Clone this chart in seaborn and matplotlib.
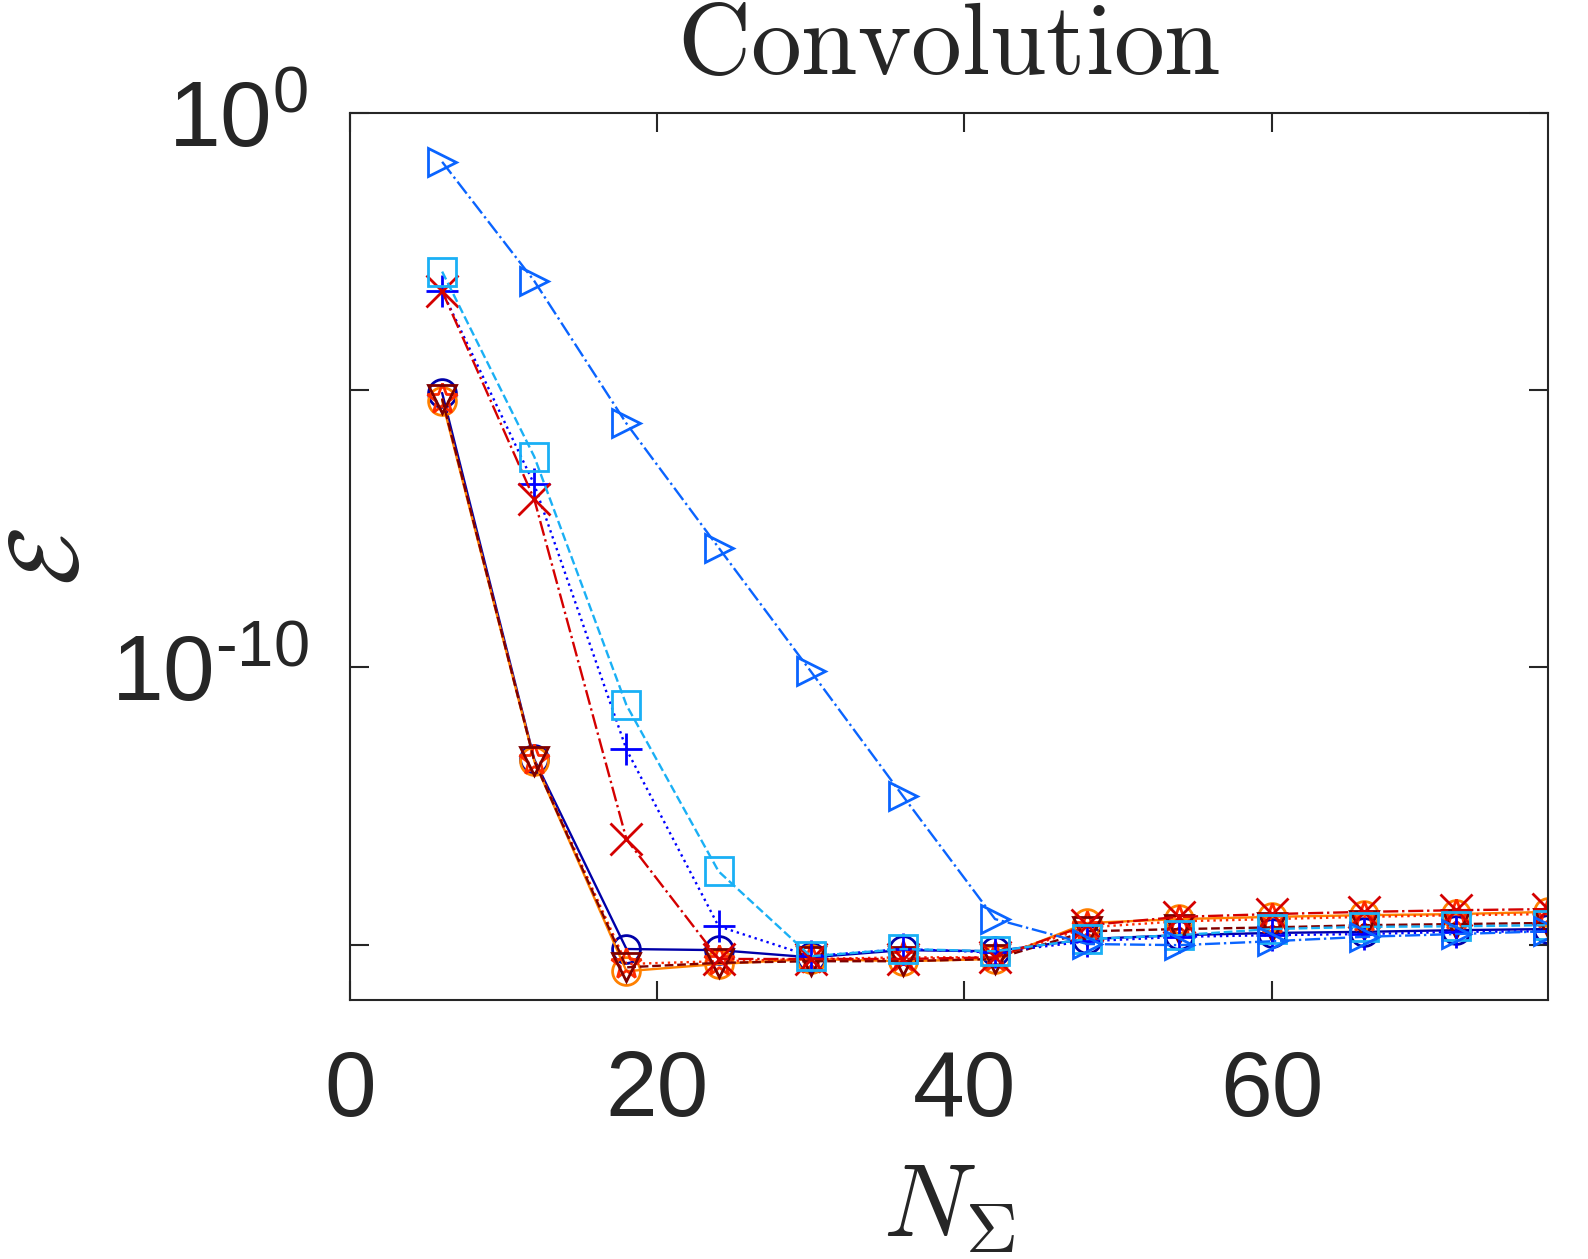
import numpy as np
import pandas as pd
import matplotlib
matplotlib.use('Agg')
import matplotlib.pyplot as plt
import seaborn as sns

# Data (log10 of error)
n_sigma = [6, 12, 18, 24, 30, 36, 42, 48, 54, 60, 66, 72, 78]

log_circ_navy = [-5.05, -11.66, -15.08, -15.10, -15.23, -15.10, -15.12, -14.90, -14.83, -14.79, -14.77, -14.74, -14.72]
log_circ_orange = [-5.19, -11.69, -15.48, -15.35, -15.26, -15.30, -15.26, -14.61, -14.54, -14.50, -14.47, -14.45, -14.41]
log_star = [-5.15, -11.67, -15.35, -15.30, -15.26, -15.23, -15.23, -14.69, -14.58, -14.54, -14.50, -14.47, -14.45]
log_tri_down = [-5.15, -11.69, -15.41, -15.33, -15.30, -15.30, -15.26, -14.76, -14.72, -14.69, -14.65, -14.63, -14.61]
log_plus = [-3.21, -6.70, -11.48, -14.67, -15.21, -15.08, -15.14, -14.94, -14.86, -14.83, -14.81, -14.77, -14.76]
log_cross = [-3.21, -6.97, -13.10, -15.26, -15.26, -15.26, -15.23, -14.65, -14.50, -14.45, -14.41, -14.38, -14.36]
log_square = [-2.86, -6.20, -10.68, -13.68, -15.21, -15.08, -15.12, -14.90, -14.83, -14.72, -14.68, -14.67, -14.65]
log_tri_right = [-0.88, -3.03, -5.60, -7.84, -10.07, -12.32, -14.54, -14.99, -15.01, -14.94, -14.86, -14.81, -14.76]

series = [
    (log_circ_navy, '#0000A8', 'o', '-'),
    (log_circ_orange, '#FF8000', 'o', '-'),
    (log_star, '#FF2A00', '*', ':'),
    (log_tri_down, '#7F0000', 'v', '--'),
    (log_plus, '#0000FF', '+', ':'),
    (log_cross, '#D40000', 'x', '-.'),
    (log_square, '#1AB0F5', 's', '--'),
    (log_tri_right, '#0A64FF', '>', '-.'),
]

sns.set_style('ticks')
plt.rcParams['font.family'] = ['Liberation Sans', 'DejaVu Sans']
plt.rcParams['mathtext.fontset'] = 'custom'
plt.rcParams['mathtext.rm'] = 'Liberation Sans'
plt.rcParams['mathtext.it'] = 'Liberation Sans:italic'
plt.rcParams['xtick.direction'] = 'in'
plt.rcParams['ytick.direction'] = 'in'

fig = plt.figure(figsize=(15.88, 12.59), dpi=100)
ax = fig.add_axes([0.2204, 0.2057, 0.7544, 0.7045])

for vals, col, mk, ls in series:
    y = 10.0 ** np.array(vals)
    ms = 23 if mk in ('*', '+', 'x') else 20
    sns.lineplot(x=n_sigma, y=y, ax=ax, color=col, marker=mk, linestyle=ls,
                 linewidth=1.7, markersize=ms, markerfacecolor='none',
                 markeredgecolor=col, markeredgewidth=2.0, legend=False)

ax.set_yscale('log')
ax.set_xlim(0, 78)
ax.set_ylim(1e-16, 1e0)
ax.set_xticks([0, 20, 40, 60])
ax.set_xticklabels(['0', '20', '40', '60'])
ax.set_yticks([1e-15, 1e-10, 1e-5, 1e0])
ax.set_yticklabels(['', '$\\mathregular{10^{\u201010}}$', '', r'$\mathregular{10^{0}}$'])
ax.yaxis.set_minor_locator(matplotlib.ticker.NullLocator())
ax.tick_params(axis='both', which='major', labelsize=67, length=14, width=1.5,
               colors='#262626', top=True, right=True)
ax.tick_params(axis='x', pad=35)
ax.tick_params(axis='y', pad=30)
for sp in ax.spines.values():
    sp.set_visible(True)
    sp.set_color('#262626')
    sp.set_linewidth(1.5)

ax.set_title(r'$\mathrm{Convolution}$', fontsize=73, math_fontfamily='cm', pad=28)
ax.set_xlabel(r'$N_\Sigma$', fontsize=74, math_fontfamily='cm', labelpad=18)
ax.set_ylabel(r'$\mathcal{E}$', fontsize=70, math_fontfamily='cm')
ax.yaxis.set_label_coords(-0.21, 0.5)

fig.savefig('out.png', dpi=100, facecolor='white')
